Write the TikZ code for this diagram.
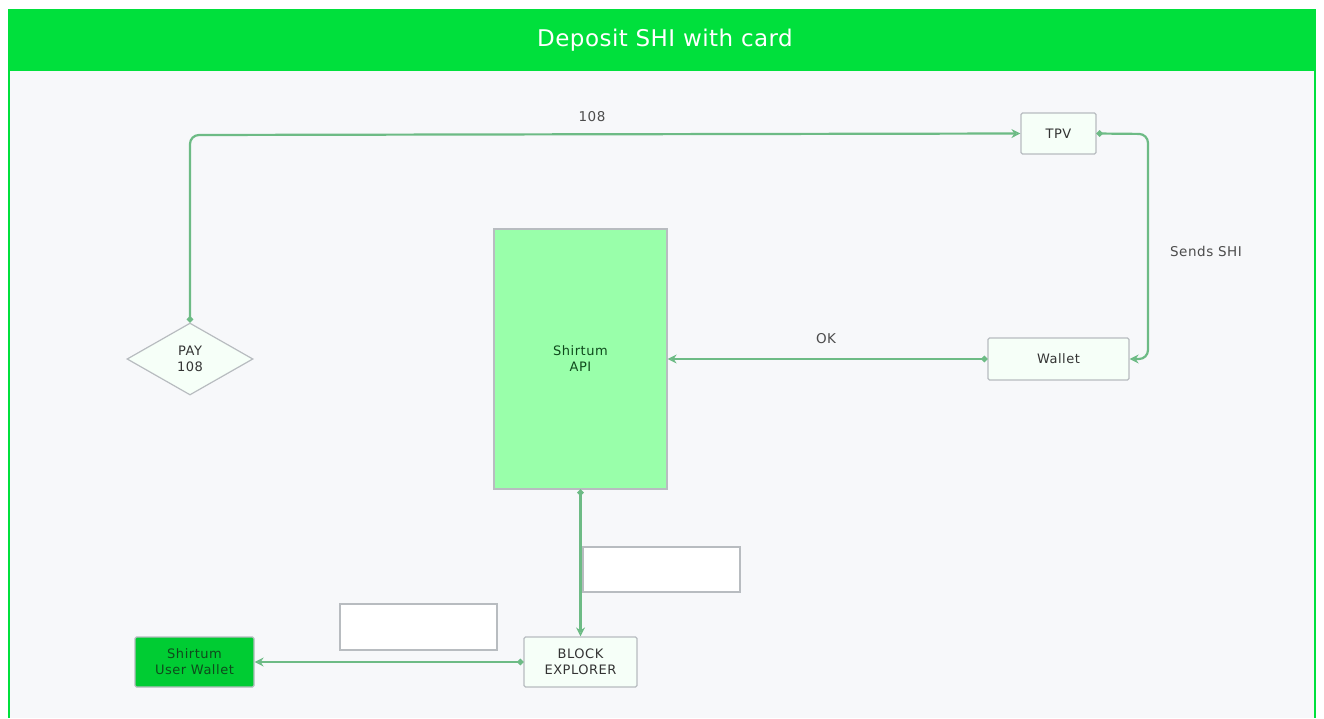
\documentclass[tikz,border=0pt]{standalone}
\usepackage{fontspec}
\setmainfont{DejaVu Sans}
\usetikzlibrary{shapes.geometric,arrows.meta}
\definecolor{hdr}{HTML}{00E03C}
\definecolor{bgin}{HTML}{F7F8FA}
\definecolor{conn}{HTML}{6DBB85}
\definecolor{bord}{HTML}{B8BCC0}
\definecolor{apifill}{HTML}{99FFAA}
\definecolor{uwfill}{HTML}{00CC33}
\definecolor{dkgreen}{HTML}{0F4A1C}
\definecolor{nodefill}{HTML}{F6FFF8}
\newcommand{\nfont}{\fontsize{13}{16}\selectfont\addfontfeature{LetterSpace=4}}
\begin{document}
\begin{tikzpicture}[x=1pt,y=-1pt,
  box/.style={draw=bord,line width=1.2pt,fill=nodefill,rounded corners=1.5pt,inner sep=0pt,align=center,font=\nfont,text=black!80},
  conn/.style={draw=conn,line width=2.2pt,{Circle[length=6pt,open,fill=white]}-{Stealth[length=9pt,width=9pt,open]},rounded corners=9pt},
  lbl/.style={font=\fontsize{13.5}{16}\selectfont\addfontfeature{LetterSpace=4},text=black!70}]
\useasboundingbox (0,0) rectangle (1324,718);
\fill[white] (0,0) rectangle (1324,718);
\fill[hdr] (8,9) rectangle (1316,718);
\fill[bgin] (10,71) rectangle (1314,718);
\node[text=white,font=\fontsize{23}{26}\selectfont\addfontfeature{LetterSpace=2}] (title) at (665,40) {Deposit SHI with card};
% nodes
\node[box,minimum width=75pt,minimum height=41pt] (tpv) at (1058.5,133.5) {TPV};
\node[box,minimum width=141pt,minimum height=42pt] (wallet) at (1058.5,359) {Wallet};
\node[box,fill=apifill,rounded corners=0pt,minimum width=173pt,minimum height=260pt,text=dkgreen] (api) at (580.5,359) {Shirtum\\API};
\node[draw=bord,line width=1.2pt,diamond,aspect=1.75,minimum width=126pt,minimum height=72pt,inner sep=0pt,align=center,font=\nfont,text=black!80,fill=nodefill] (pay) at (190,359) {PAY\\108};
\node[box,minimum width=113pt,minimum height=50pt] (be) at (580.5,662) {BLOCK\\EXPLORER};
\node[box,fill=uwfill,minimum width=119pt,minimum height=50pt,text=dkgreen] (uw) at (194.5,662) {Shirtum\\User Wallet};
% empty boxes
\node[draw=bord,fill=white,line width=1.2pt,minimum width=157pt,minimum height=45pt,inner sep=0pt] (e1) at (661.5,569.5) {};
\node[draw=bord,fill=white,line width=1.2pt,minimum width=157pt,minimum height=46pt,inner sep=0pt] (e2) at (418.5,627) {};
% connectors
\coordinate (c1) at (190,135);
\draw[conn] (pay.north) -- (c1) -- (tpv.west);
\node[lbl] (l108) at (592,117) {108};
\coordinate (c2) at (1148,134);
\coordinate (c3) at (1148,359);
\draw[conn] (tpv.east) -- (c2) -- (c3) -- (wallet.east);
\node[lbl] (lsends) at (1206,251) {Sends SHI};
\draw[conn] (wallet.west) -- (api.east);
\node[lbl] (lok) at (826,339) {OK};
\draw[conn] (api.south) -- (be.north);
\draw[conn] (be.west) -- (uw.east);
\end{tikzpicture}
\end{document}
